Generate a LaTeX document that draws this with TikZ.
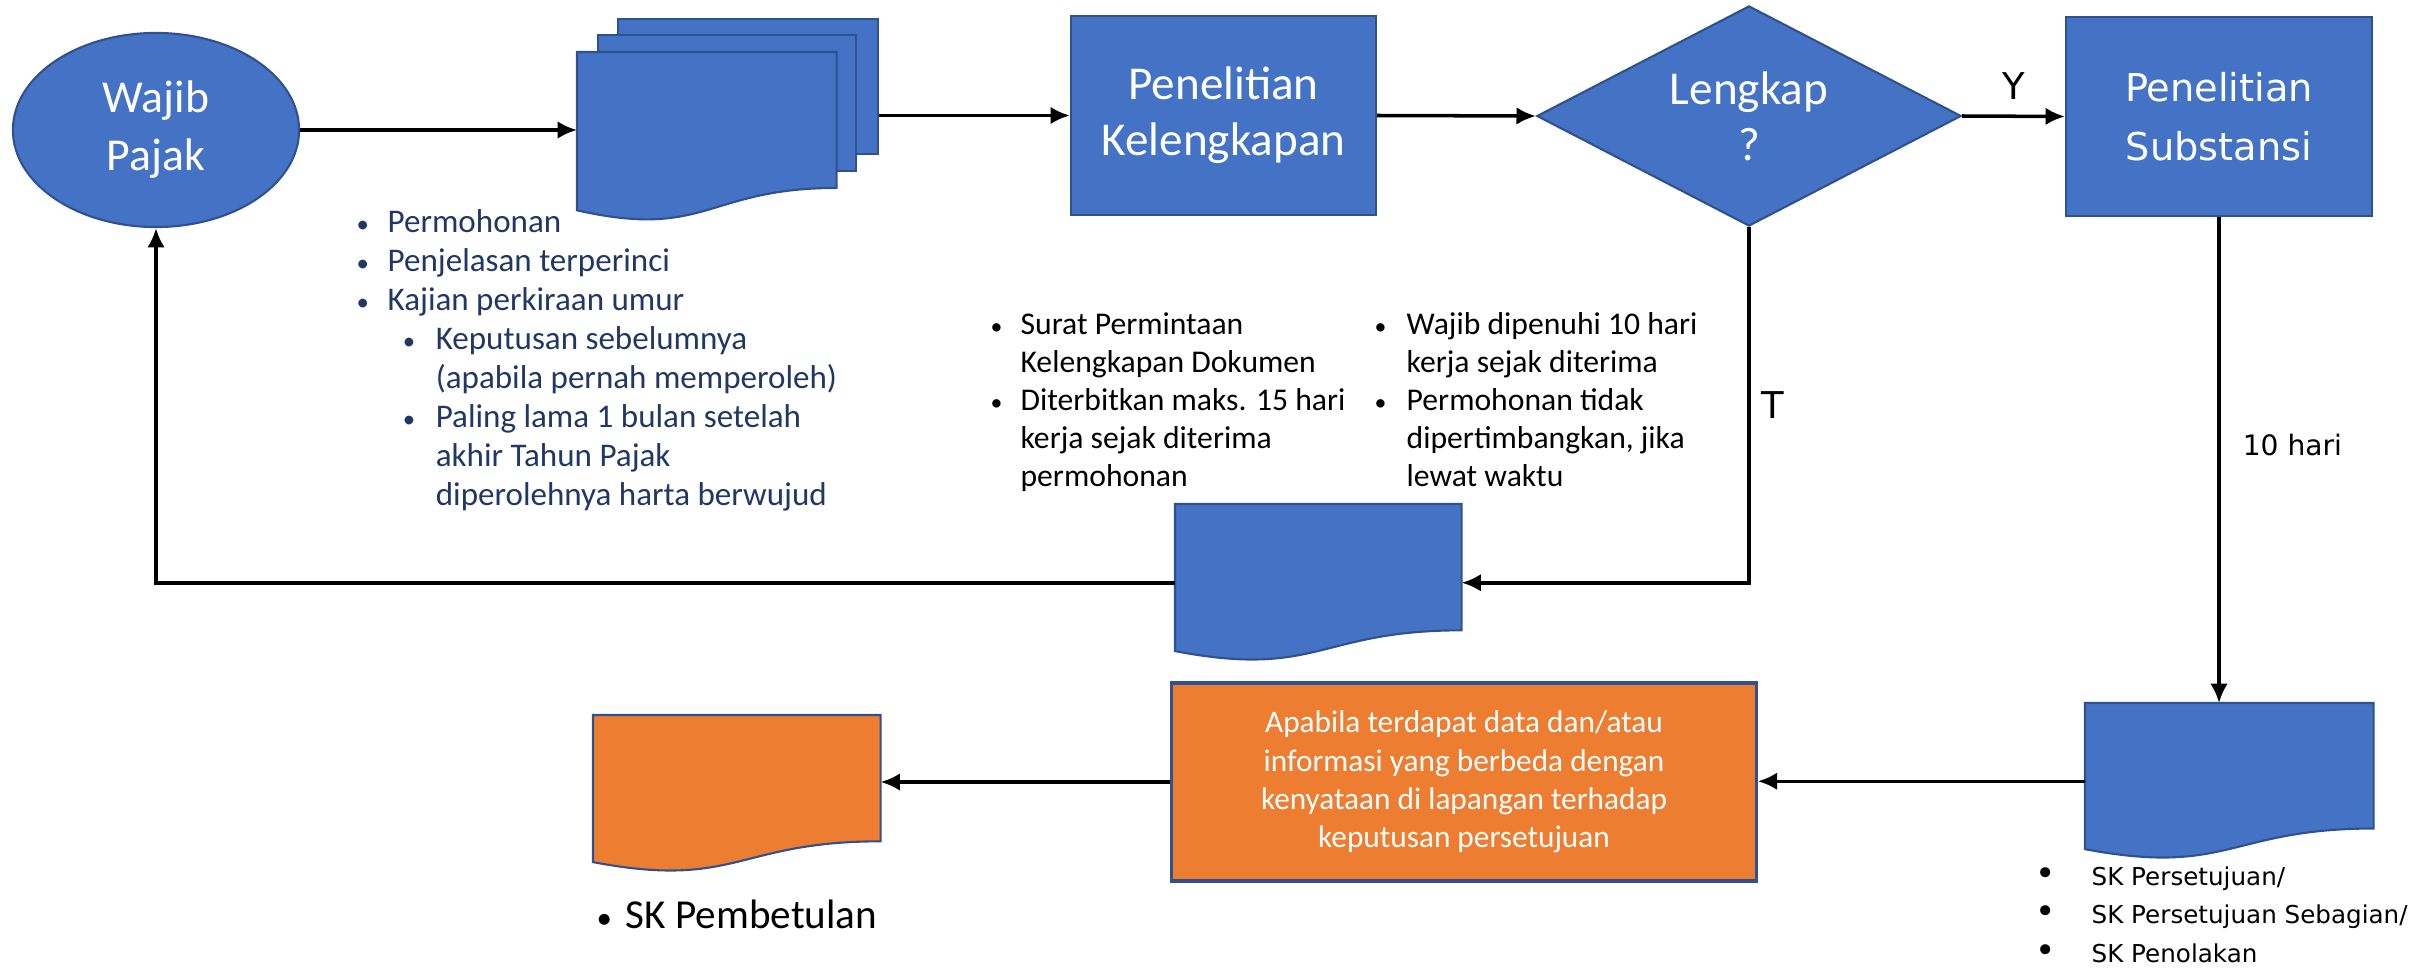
\documentclass[tikz,border=0pt]{standalone}
\usepackage{fontspec}
\setmainfont{Carlito}
\newfontfamily\verdana{DejaVu Sans}
\usepackage{tikz}
\usetikzlibrary{shapes.geometric}
\usetikzlibrary{arrows.meta,calc}

\definecolor{biru}{HTML}{4472C4}
\definecolor{garisbiru}{HTML}{2F528F}
\definecolor{oranye}{HTML}{ED7D31}
\definecolor{teksnavy}{HTML}{203864}

\newcommand{\butir}[2][0.75]{\makebox[#2][l]{\scalebox{#1}{\textbullet}}}
\newcommand{\lembaran}[2]{%
    \draw[draw=garisbiru, line width=0.6pt, fill=#2] (#1.north west) -- (#1.north east)
        -- ($(#1.north east)!0.802!(#1.south east)$)
        .. controls ($(#1.north)!0.802!(#1.south)$) and ($(#1.north)!1.1075!(#1.south)$)
        .. ($(#1.north west)!0.934!(#1.south west)$) -- cycle;}

\begin{document}
\begin{tikzpicture}[x=0.01cm, y=-0.01cm,
            >={Latex[length=5.5pt, width=5pt]},
            every node/.style = {inner sep=0pt},
            proses/.style = {draw=garisbiru, line width=0.6pt, fill=biru, text=white, align=center,
                minimum width=3.05cm, minimum height=1.99cm},
            alur/.style = {->, line width=1pt},
            daftar/.style = {anchor=north west, align=left}
            ]
            \useasboundingbox (0,0) rectangle (2425,970);
            \node[ellipse, draw=garisbiru, line width=0.6pt, fill=biru, text=white, align=center,
                minimum width=2.86cm, minimum height=1.94cm,
                font=\fontsize{13}{16.5}\selectfont] (wp) at (156,130) {Wajib\\Pajak};
            \node[draw=garisbiru, line width=0.6pt, fill=biru, anchor=north west,
                minimum width=2.60cm, minimum height=1.35cm] (blk) at (617,18) {};
            \node[draw=garisbiru, line width=0.6pt, fill=biru, anchor=north west,
                minimum width=2.58cm, minimum height=1.36cm] (tgh) at (597,34) {};
            \node[anchor=north west, minimum width=2.58cm, minimum height=1.68cm] (dpn) at (577,52) {};
            \lembaran{dpn}{biru}
            \node[proses, font=\fontsize{13.4}{15.9}\selectfont] (kel) at (1223.5,115.5) {Penelitian\\Kelengkapan};
            \node[diamond, draw=garisbiru, line width=0.6pt, fill=biru, text=white, align=center,
                minimum width=4.24cm, minimum height=2.2cm, shape aspect=1.93,
                font=\fontsize{13.4}{15.9}\selectfont] (cek) at (1749,116) {Lengkap\\?};
            \node[proses, minimum width=3.06cm, font=\verdana\fontsize{10.9}{16.8}\selectfont] (sub) at (2219,116.5) {Penelitian\\Substansi};
            \node[anchor=north west, minimum width=2.85cm, minimum height=1.56cm] (dok) at (1175,504) {};
            \lembaran{dok}{biru}
            \node[anchor=north west, minimum width=2.87cm, minimum height=1.55cm] (sk) at (2085,703) {};
            \lembaran{sk}{biru}
            \node[draw=garisbiru, line width=0.9pt, fill=oranye, text=white, align=center,
                minimum width=5.84cm, minimum height=1.98cm,
                font=\fontsize{8.9}{10.9}\selectfont] (ubah) at (1464,782)
                {Apabila terdapat data dan/atau\\informasi yang berbeda dengan\\kenyataan di lapangan terhadap\\keputusan persetujuan};
            \node[anchor=north west, minimum width=2.86cm, minimum height=1.56cm] (pemb) at (593,715) {};
            \lembaran{pemb}{oranye}

            \node[daftar, text=teksnavy, font=\fontsize{9.4}{11.1}\selectfont] (syarat) at (356,209)
                {\butir{8.8pt}Permohonan\\
                \butir{8.8pt}Penjelasan terperinci\\
                \butir{8.8pt}Kajian perkiraan umur\\
                \hspace*{13.1pt}\butir{9.4pt}Keputusan sebelumnya\\
                \hspace*{22.5pt}(apabila pernah memperoleh)\\
                \hspace*{13.1pt}\butir{9.4pt}Paling lama 1 bulan setelah\\
                \hspace*{22.5pt}akhir Tahun Pajak\\
                \hspace*{22.5pt}diperolehnya harta berwujud};
            \node[daftar, font=\fontsize{9}{10.8}\selectfont] (surat) at (990,312)
                {\butir{8.5pt}Surat Permintaan\\
                \hspace*{8.5pt}Kelengkapan Dokumen\\
                \butir{8.5pt}Diterbitkan maks. 15 hari\\
                \hspace*{8.5pt}kerja sejak diterima\\
                \hspace*{8.5pt}permohonan};
            \node[daftar, font=\fontsize{9}{10.8}\selectfont] (batas) at (1374,312)
                {\butir{9.1pt}Wajib dipenuhi 10 hari\\
                \hspace*{9.1pt}kerja sejak diterima\\
                \butir{9.1pt}Permohonan tidak\\
                \hspace*{9.1pt}dipertimbangkan, jika\\
                \hspace*{9.1pt}lewat waktu};
            \node[daftar, font=\verdana\fontsize{7}{10.9}\selectfont] (hasil) at (2035,866)
                {\butir[1.4]{15.9pt}SK Persetujuan/\\
                \butir[1.4]{15.9pt}SK Persetujuan Sebagian/\\
                \butir[1.4]{15.9pt}SK Penolakan};
            \node[anchor=base west, font=\fontsize{11.7}{14}\selectfont] (koreksi) at (596,928)
                {\butir{8.3pt}SK Pembetulan};

            \draw[alur] (wp.east) -- (wp.east -| dpn.west);
            \draw[alur] (blk.east |- kel.west) -- (kel.west);
            \draw[alur] (kel.east) -- (cek.west);
            \draw[alur] (cek.east) -- node[above=0.15cm, font=\verdana\fontsize{10.5}{12}\selectfont] (ya) {Y} (sub.west);
            \draw[alur] (cek.south) |- node[pos=0.25, right=0.11cm, font=\verdana\fontsize{10.5}{12}\selectfont] (tidak) {T} (dok.east);
            \draw[alur] (dok.west) -| (wp.south);
            \draw[alur] (sub.south) -- node[pos=0.47, right=0.22cm, font=\verdana\fontsize{8}{10}\selectfont] (lama) {10 hari} (sub.south |- sk.north);
            \draw[alur] (sk.west) -- (sk.west -| ubah.east);
            \draw[alur] (ubah.west) -- (ubah.west -| pemb.east);
        \end{tikzpicture}
\end{document}
